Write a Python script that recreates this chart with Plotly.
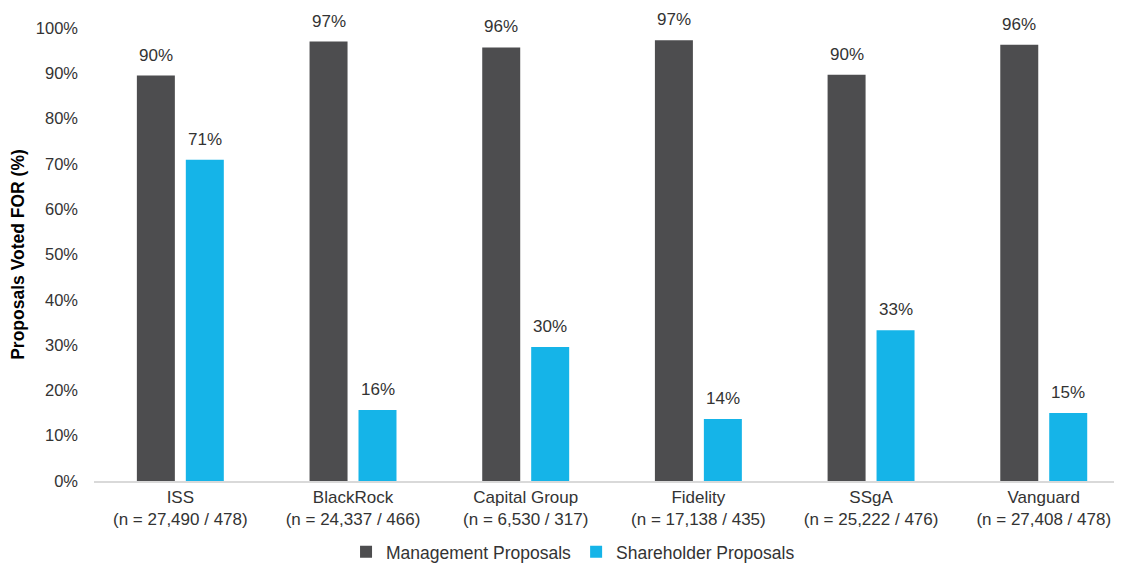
import plotly.graph_objects as go

categories = ["ISS", "BlackRock", "Capital Group", "Fidelity", "SSgA", "Vanguard"]
sample_sizes = ["(n = 27,490 / 478)", "(n = 24,337 / 466)", "(n = 6,530 / 317)",
                "(n = 17,138 / 435)", "(n = 25,222 / 476)", "(n = 27,408 / 478)"]
management = [89.5, 97.0, 95.7, 97.3, 89.7, 96.3]
shareholder = [70.9, 15.7, 29.6, 13.7, 33.3, 15.0]
yticks = list(range(0, 101, 10))

tick_text = [f"{c}<br>{n}" for c, n in zip(categories, sample_sizes)]
font_family = "Liberation Sans, Arial, sans-serif"
text_color = "#333333"

fig = go.Figure()
fig.add_bar(x=categories, y=management, name="Management Proposals",
            marker=dict(color="#4D4D4F", line=dict(width=0)))
fig.add_bar(x=categories, y=shareholder, name="Shareholder Proposals",
            marker=dict(color="#15B4E8", line=dict(width=0)))

annotations = []
for series, shift in ((management, -24.5), (shareholder, 24.5)):
    for c, v in zip(categories, series):
        annotations.append(dict(x=c, y=v, xref="x", yref="y", text=f"{round(v):.0f}%",
                                showarrow=False, xshift=shift, yshift=9, yanchor="bottom",
                                font=dict(size=17, color=text_color)))

fig.update_layout(
    width=1122, height=563,
    margin=dict(l=86, r=12, t=20, b=90),
    paper_bgcolor="white", plot_bgcolor="white",
    font=dict(family=font_family, size=17, color=text_color),
    barmode="group", bargap=0.433, bargroupgap=0.224,
    showlegend=True,
    annotations=annotations,
    legend=dict(orientation="h", xref="container", yref="container",
                x=0.5036, xanchor="center", y=0.034, yanchor="middle",
                font=dict(size=17.5, color=text_color), itemwidth=30, traceorder="normal"),
    xaxis=dict(tickmode="array", tickvals=categories, ticktext=tick_text, automargin=False,
               range=[-0.5, 5.43], showline=True, linecolor="#D9D9D9", linewidth=1.5,
               ticks="", showgrid=False, tickfont=dict(size=17, color=text_color)),
    yaxis=dict(range=[0, 100], tickvals=yticks, ticktext=[f"{v}%" for v in yticks],
               automargin=False,
               showgrid=False, zeroline=False, showline=False, ticks="",
               ticklabelstandoff=15,
               tickfont=dict(size=16.5, color=text_color),
               title=dict(text="<b>Proposals Voted FOR (%)</b>", font=dict(size=17.5, color="#000000"),
                          standoff=10)),
)

fig.write_html("out.html")
